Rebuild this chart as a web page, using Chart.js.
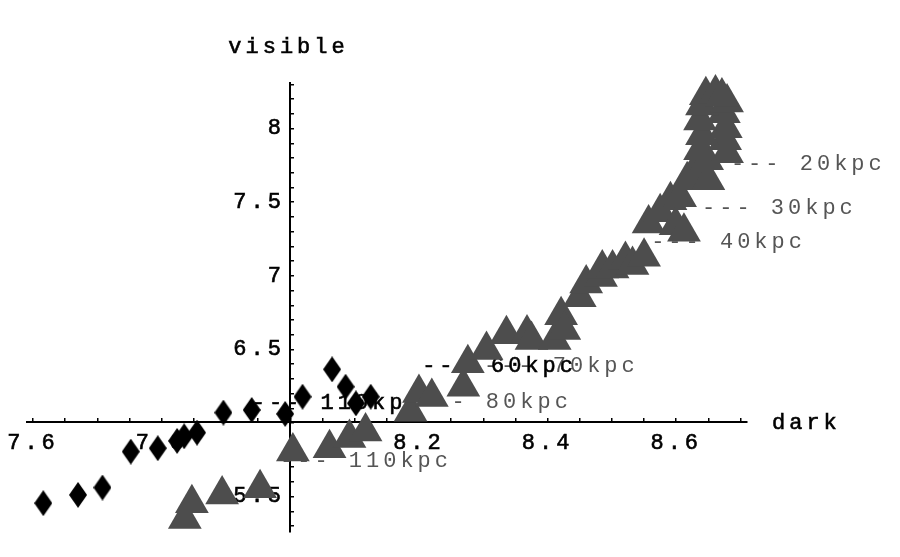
<!DOCTYPE html>
<html>
<head>
<meta charset="utf-8">
<script src="https://cdn.jsdelivr.net/npm/chart.js@4.4.1/dist/chart.umd.min.js"></script>
<style>
  html, body { margin: 0; padding: 0; background: #fff; }
</style>
</head>
<body>
<canvas id="myChart" width="900" height="557"></canvas>
<script>
// black diamonds
const diamondDark = [7.616, 7.670, 7.708, 7.752, 7.794, 7.824, 7.835, 7.855, 7.896, 7.940, 7.992, 8.019, 8.065, 8.086, 8.102, 8.125];
const diamondVisible = [5.456, 5.512, 5.562, 5.806, 5.829, 5.879, 5.910, 5.935, 6.071, 6.089, 6.062, 6.179, 6.365, 6.247, 6.134, 6.179];

// grey triangles, outer radii first
const triangleDark = [7.836, 7.847, 7.894, 7.953, 8.004, 8.061, 8.092, 8.117,
    8.187, 8.200, 8.220, 8.269, 8.276, 8.305, 8.336, 8.368, 8.375, 8.411,
    8.421, 8.426, 8.450, 8.460, 8.483, 8.485, 8.501, 8.521, 8.532, 8.550,
    8.557, 8.575, 8.591, 8.599, 8.612, 8.606, 8.617, 8.629, 8.650, 8.648,
    8.679, 8.637, 8.676, 8.640, 8.677, 8.637, 8.674, 8.640, 8.679, 8.646, 8.661, 8.671];
const triangleVisible = [5.349, 5.456, 5.514, 5.558, 5.806, 5.829, 5.899, 5.942,
    6.077, 6.204, 6.177, 6.247, 6.406, 6.496, 6.604, 6.609, 6.564, 6.564,
    6.733, 6.632, 6.855, 6.948, 6.993, 7.050, 7.050, 7.107, 7.073, 7.129,
    7.355, 7.432, 7.514, 7.344, 7.299, 7.534, 7.649, 7.717, 7.649, 7.785,
    7.832, 7.853, 7.921, 7.955, 8.002, 8.056, 8.104, 8.158, 8.178, 8.226, 8.239, 8.219];

// radius labels (anchored at text start, baseline)
const triLabelText = ['--- 20kpc', '--- 30kpc', '--- 40kpc', '--- 70kpc', '--- 80kpc', '--- 110kpc'];
const triLabelDark = [8.685, 8.640, 8.561, 8.301, 8.197, 7.984];
const triLabelVisible = [7.717, 7.419, 7.188, 6.347, 6.102, 5.702];
const diaLabelText = ['--- 60kpc', '--- 110kpc'];
const diaLabelDark = [8.205, 7.940];
const diaLabelVisible = [6.347, 6.096];

// axes
const xLabelValues = [7.6, 7.8, 8.2, 8.4, 8.6];
const xTickLabels = ['7.6', '7.8', '8.2', '8.4', '8.6'];
const yLabelValues = [5.5, 6.5, 7, 7.5, 8];
const yTickLabels = ['5.5', '6.5', '7', '7.5', '8'];
const xMin = 7.59, xMax = 8.71, xStep = 0.05;
const yMin = 5.26, yMax = 8.31, yStep = 0.1;
const xOrigin = 8.0, yOrigin = 6.01;

const FONT = '"Liberation Mono", "Courier New", monospace';

function diamondImage() {
    const c = document.createElement('canvas');
    c.width = 18; c.height = 26;
    const g = c.getContext('2d');
    g.fillStyle = '#000';
    g.beginPath();
    g.moveTo(9, 0); g.lineTo(18, 13); g.lineTo(9, 26); g.lineTo(0, 13);
    g.closePath();
    g.fill();
    return c;
}

function stepTicks(min, max, step) {
    const out = [];
    for (let k = Math.ceil(min / step - 1e-9); k * step <= max + 1e-9; k++) {
        out.push({ value: Math.round(k * step * 1000) / 1000 });
    }
    return out;
}

function findLabel(values, texts, v) {
    const i = values.findIndex(a => Math.abs(a - v) < 1e-6);
    return i < 0 ? '' : texts[i];
}

const textPlugin = {
    id: 'kpcText',
    beforeDraw(chart) {
        chart.ctx.letterSpacing = '4px';
    },
    beforeDatasetsDraw(chart) {
        const ctx = chart.ctx;
        const xs = chart.scales.x, ys = chart.scales.y;
        ctx.save();
        ctx.font = '22px ' + FONT;
        ctx.textAlign = 'left';
        ctx.textBaseline = 'alphabetic';
        ctx.fillStyle = '#555555';
        triLabelText.forEach((t, i) => {
            ctx.fillText(t, xs.getPixelForValue(triLabelDark[i]), ys.getPixelForValue(triLabelVisible[i]));
        });
        ctx.fillStyle = '#000';
        ctx.strokeStyle = '#000';
        ctx.lineWidth = 0.6;
        const black = (t, x, y) => { ctx.fillText(t, x, y); ctx.strokeText(t, x, y); };
        diaLabelText.forEach((t, i) => {
            black(t, xs.getPixelForValue(diaLabelDark[i]), ys.getPixelForValue(diaLabelVisible[i]));
        });
        // axis names
        black('dark', xs.right + 25, ys.getPixelForValue(yOrigin) + 7);
        black('visible', xs.getPixelForValue(xOrigin) - 62, ys.top - 30);
        ctx.restore();
    }
};

const ctx = document.getElementById('myChart').getContext('2d');
new Chart(ctx, {
    type: 'scatter',
    data: {
        datasets: [{
            label: 'triangles',
            data: triangleDark.map((d, i) => ({ x: d, y: triangleVisible[i] })),
            pointStyle: 'triangle',
            pointRadius: 19.5,
            backgroundColor: '#4d4d4d',
            borderWidth: 0,
            clip: false
        }, {
            label: 'diamonds',
            data: diamondDark.map((d, i) => ({ x: d, y: diamondVisible[i] })),
            pointStyle: diamondImage(),
            pointRadius: 12,
            clip: false
        }]
    },
    options: {
        responsive: false,
        animation: false,
        events: [],
        layout: { padding: { left: 22, right: 153, top: 83, bottom: 25 } },
        plugins: { legend: { display: false }, tooltip: { enabled: false } },
        scales: {
            x: {
                type: 'linear',
                min: xMin, max: xMax,
                position: { y: yOrigin },
                afterBuildTicks: s => { s.ticks = stepTicks(xMin, xMax, xStep); },
                grid: { drawOnChartArea: false, drawTicks: true, tickLength: -5, lineWidth: 1.5, color: '#000' },
                border: { display: true, color: '#000', width: 2 },
                ticks: {
                    autoSkip: false, maxRotation: 0, padding: 13, color: '#000',
                    textStrokeColor: '#000', textStrokeWidth: 0.6,
                    font: { family: FONT, size: 22 },
                    callback: v => findLabel(xLabelValues, xTickLabels, v)
                }
            },
            y: {
                type: 'linear',
                min: yMin, max: yMax,
                position: { x: xOrigin },
                afterBuildTicks: s => { s.ticks = stepTicks(yMin, yMax, yStep); },
                grid: { drawOnChartArea: false, drawTicks: true, tickLength: -5, lineWidth: 1.5, color: '#000' },
                border: { display: true, color: '#000', width: 2 },
                ticks: {
                    autoSkip: false, color: '#000',
                    textStrokeColor: '#000', textStrokeWidth: 0.6,
                    font: { family: FONT, size: 22 },
                    callback: v => {
                        const t = findLabel(yLabelValues, yTickLabels, v);
                        return t ? t + '\u200A' : '';
                    }
                }
            }
        }
    },
    plugins: [textPlugin]
});
</script>
</body>
</html>
